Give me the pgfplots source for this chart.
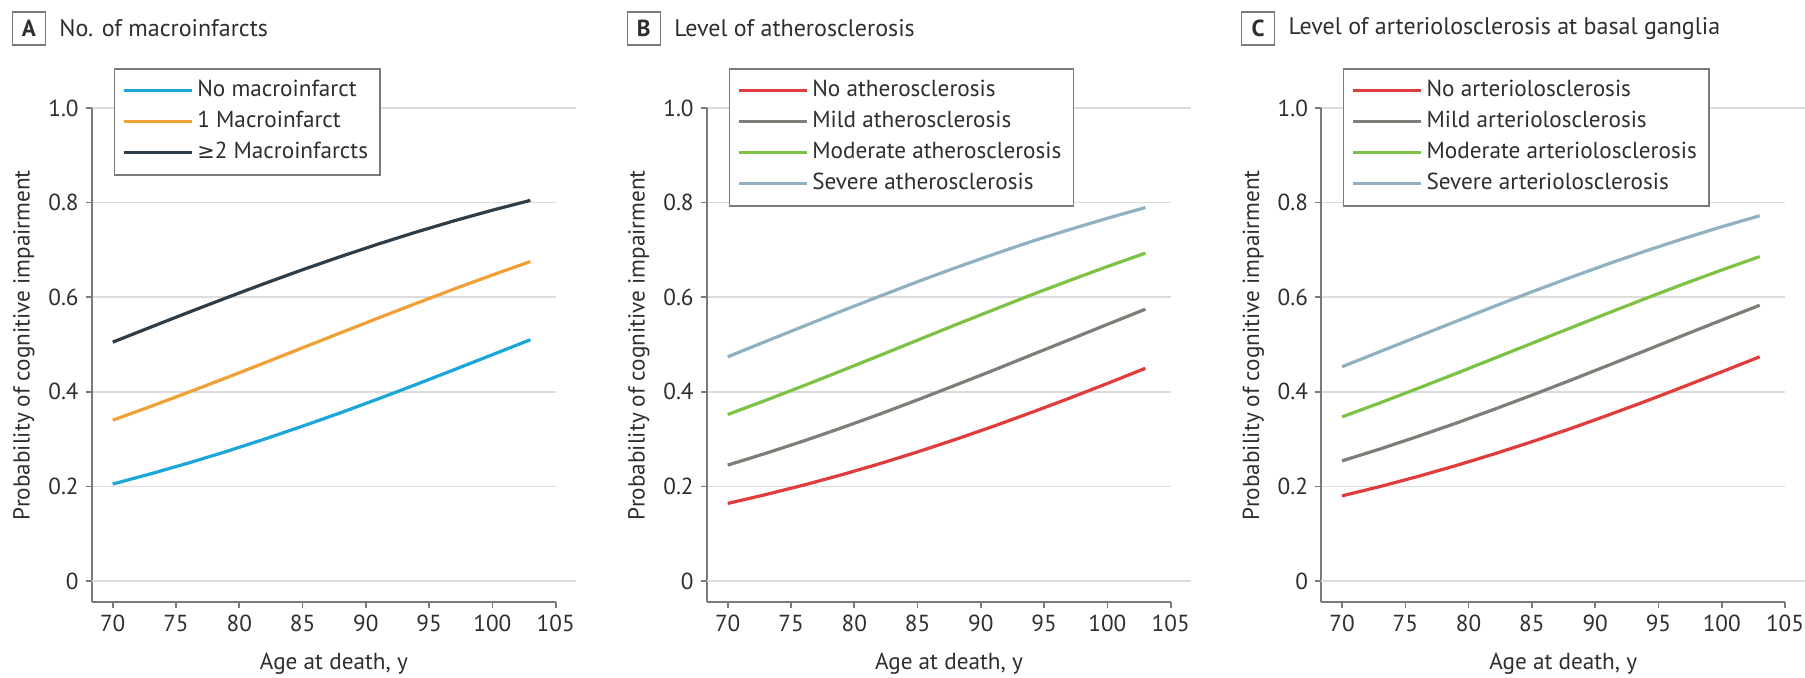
\documentclass[border=0pt]{standalone}
\usepackage{fontspec}
\setmainfont{PT Sans}
\newfontfamily\djv{DejaVu Sans}[Scale=0.9]
\usepackage{pgfplots}
\pgfplotsset{compat=1.18}

\definecolor{cNone}{HTML}{1BA6D9}
\definecolor{cOne}{HTML}{F0A035}
\definecolor{cTwo}{HTML}{2E3D48}
\definecolor{cRed}{HTML}{E03C3C}
\definecolor{cMild}{HTML}{7E7E78}
\definecolor{cMod}{HTML}{7CC244}
\definecolor{cSev}{HTML}{8FB1C2}
\definecolor{gridgray}{HTML}{DCDCDC}
\definecolor{zerogray}{HTML}{D0D0D0}
\definecolor{axisgray}{HTML}{7A7A7A}
\definecolor{labelgray}{HTML}{2E2E2E}

\newcommand{\fs}{\fontsize{11.6}{13.5}\selectfont}

\pgfplotsset{
  panel/.style={
    scale only axis, width=232pt, height=247pt,
    xmin=68.34, xmax=105, ymin=-0.0444, ymax=1.0,
    axis x line=bottom, axis y line=left,
    axis line style={-, draw=axisgray, line width=0.8pt},
    tick align=outside, major tick length=3pt,
    tick style={axisgray, line width=0.8pt},
    xtick={70,75,...,105}, xticklabels={70,75,80,85,90,95,100,105},
    ytick={0.2,0.4,0.6,0.8,1.0}, yticklabels={0.2,0.4,0.6,0.8,1.0},
    extra y ticks={0}, extra y tick labels={0},
    extra y tick style={grid style={zerogray, line width=1.6pt, shorten >=-10pt}},
    ymajorgrids,
    major grid style={gridgray, line width=0.8pt, shorten >=-10pt},
    tick label style={font=\fs, text=labelgray},
    xlabel={Age at death, y},
    ylabel={Probability of cognitive impairment},
    label style={font=\fs, text=labelgray},
    xlabel style={at={(axis description cs:0.522,0)}, anchor=center, yshift=-31pt},
    ylabel style={at={(axis description cs:-0.146,0.52)}, anchor=center},
    legend style={at={(axis description cs:0.047,1.081)}, anchor=north west,
      draw=axisgray, line width=0.8pt, fill=white, font=\fs, text=labelgray,
      inner xsep=4pt, inner ysep=3.5pt, row sep=0.5pt,
      nodes={text height=8.5pt, text depth=2.5pt, inner sep=2pt}},
    legend cell align=left,
    legend image code/.code={\draw[#1, line width=1.5pt] (0pt,0pt) -- (34pt,0pt);},
    every axis plot/.append style={line width=1.6pt, no markers},
    clip=false,
  },
}

\begin{document}
\begin{tikzpicture}
\useasboundingbox (0pt,0pt) rectangle (902.5pt,-338.5pt);

% A: number of macroinfarcts
\begin{axis}[panel, name=A, at={(45.85pt,-301pt)}, anchor=south west]
\addplot[cNone] coordinates {(70,0.205) (73,0.2266) (76,0.2496) (79,0.2740) (82,0.3000) (85,0.3274) (88,0.3557) (91,0.3853) (94,0.4158) (97,0.4470) (100,0.4785) (103,0.5102)};
\addplot[cOne] coordinates {(70,0.340) (73,0.3691) (76,0.3992) (79,0.4299) (82,0.4613) (85,0.4931) (88,0.5247) (91,0.5562) (94,0.5872) (97,0.6176) (100,0.6470) (103,0.6754)};
\addplot[cTwo] coordinates {(70,0.505) (73,0.5367) (76,0.5681) (79,0.5989) (82,0.6290) (85,0.6581) (88,0.6859) (91,0.7126) (94,0.7379) (97,0.7617) (100,0.7840) (103,0.8047)};
\legend{No macroinfarct, 1 Macroinfarct, {{\djv ≥}2 Macroinfarcts}}
\end{axis}

% B: atherosclerosis
\begin{axis}[panel, name=B, at={(353.35pt,-301pt)}, anchor=south west]
\addplot[cRed] coordinates {(70,0.164) (73,0.1827) (76,0.2028) (79,0.2246) (82,0.2479) (85,0.2729) (88,0.2994) (91,0.3272) (94,0.3564) (97,0.3865) (100,0.4177) (103,0.4497)};
\addplot[cMild] coordinates {(70,0.245) (73,0.2699) (76,0.2961) (79,0.3238) (82,0.3527) (85,0.3830) (88,0.4141) (91,0.4456) (94,0.4780) (97,0.5102) (100,0.5426) (103,0.5747)};
\addplot[cMod] coordinates {(70,0.352) (73,0.3820) (76,0.4129) (79,0.4446) (82,0.4768) (85,0.5092) (88,0.5417) (91,0.5734) (94,0.6050) (97,0.6353) (100,0.6649) (103,0.6932)};
\addplot[cSev] coordinates {(70,0.474) (73,0.5065) (76,0.5387) (79,0.5708) (82,0.6020) (85,0.6328) (88,0.6623) (91,0.6906) (94,0.7179) (97,0.7429) (100,0.7669) (103,0.7896)};
\legend{No atherosclerosis, Mild atherosclerosis, Moderate atherosclerosis, Severe atherosclerosis}
\end{axis}

% C: arteriolosclerosis at basal ganglia
\begin{axis}[panel, name=C, at={(660.5pt,-301pt)}, anchor=south west]
\addplot[cRed] coordinates {(70,0.180) (73,0.1997) (76,0.2211) (79,0.2440) (82,0.2685) (85,0.2944) (88,0.3217) (91,0.3505) (94,0.3801) (97,0.4110) (100,0.4423) (103,0.4740)};
\addplot[cMild] coordinates {(70,0.254) (73,0.2791) (76,0.3058) (79,0.3336) (82,0.3628) (85,0.3929) (88,0.4239) (91,0.4556) (94,0.4875) (97,0.5198) (100,0.5516) (103,0.5830)};
\addplot[cMod] coordinates {(70,0.347) (73,0.3766) (76,0.4073) (79,0.4386) (82,0.4706) (85,0.5025) (88,0.5345) (91,0.5663) (94,0.5974) (97,0.6281) (100,0.6575) (103,0.6859)};
\addplot[cSev] coordinates {(70,0.453) (73,0.4850) (76,0.5170) (79,0.5488) (82,0.5804) (85,0.6114) (88,0.6413) (91,0.6702) (94,0.6978) (97,0.7241) (100,0.7490) (103,0.7722)};
\legend{No arteriolosclerosis, Mild arteriolosclerosis, Moderate arteriolosclerosis, Severe arteriolosclerosis}
\end{axis}

% panel titles
\foreach \p/\t in {A/No. of macroinfarcts, B/Level of atherosclerosis, C/Level of arteriolosclerosis at basal ganglia} {
  \node[draw=axisgray, line width=0.8pt, minimum size=16.5pt, inner sep=0pt,
        font=\bfseries\fs, text=labelgray] at ([shift={(-31.45pt,39.75pt)}]\p.north west) {\p};
  \node[anchor=west, inner sep=0pt, font=\fontsize{12}{14}\selectfont, text=labelgray]
        at ([shift={(-16.35pt,39.75pt)}]\p.north west) {\t};
}
\end{tikzpicture}
\end{document}
